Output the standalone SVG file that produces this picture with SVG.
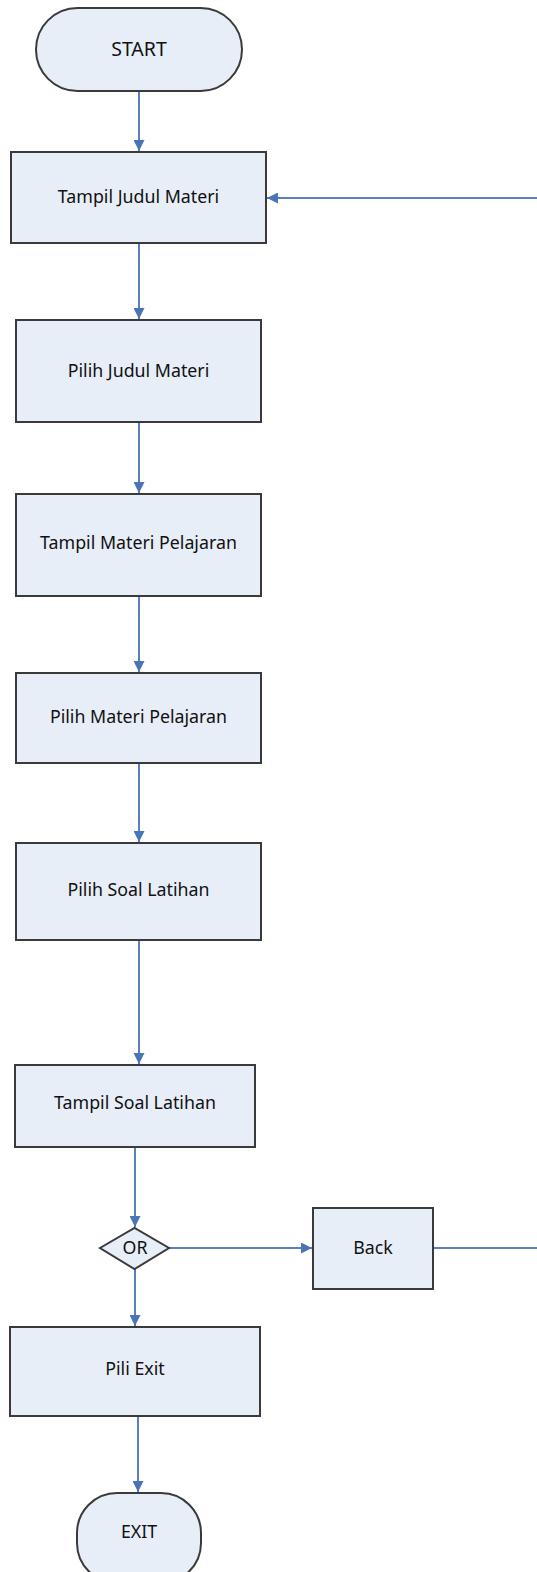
<svg xmlns="http://www.w3.org/2000/svg" width="537" height="1572" viewBox="0 0 537 1572">
<defs>
<style>
.n{fill:#e8eef8;stroke:#3a3a3a;stroke-width:2}
.t{font-family:"Noto Sans","Open Sans",sans-serif;font-size:17.8px;fill:#111;text-anchor:middle}
.tt{font-family:"Noto Sans","Open Sans",sans-serif;font-size:19.5px;fill:#111;text-anchor:middle}
.c{fill:none;stroke:#5b7fbf;stroke-width:2}
</style>
<marker id="ah" viewBox="0 0 10 10" refX="10" refY="5" markerWidth="11" markerHeight="11" markerUnits="userSpaceOnUse" orient="auto">
<path d="M0,0 L10,5 L0,10 Z" fill="#4a74b8"/>
</marker>
</defs>
<rect width="537" height="1572" fill="#fff"/>
<g id="connectors">
<path class="c" d="M139,91 V151" marker-end="url(#ah)"/>
<path class="c" d="M139,243 V319" marker-end="url(#ah)"/>
<path class="c" d="M139,422 V493" marker-end="url(#ah)"/>
<path class="c" d="M139,596 V672" marker-end="url(#ah)"/>
<path class="c" d="M139,763 V842" marker-end="url(#ah)"/>
<path class="c" d="M139,940 V1064" marker-end="url(#ah)"/>
<path class="c" d="M135,1147 V1227" marker-end="url(#ah)"/>
<path class="c" d="M169,1248 H312" marker-end="url(#ah)"/>
<path class="c" d="M135,1269 V1326" marker-end="url(#ah)"/>
<path class="c" d="M138,1416 V1492" marker-end="url(#ah)"/>
<path class="c" d="M433,1248 H540 V198 H267" marker-end="url(#ah)"/>
</g>
<g id="start"><rect class="n" x="36" y="8" width="206" height="83" rx="41.5"/><text class="tt" x="139" y="56">START</text></g>
<g id="tampil-judul"><rect class="n" x="11" y="152" width="255" height="91"/><text class="t" x="138.5" y="203">Tampil Judul Materi</text></g>
<g id="pilih-judul"><rect class="n" x="16" y="320" width="245" height="102"/><text class="t" x="138.5" y="377">Pilih Judul Materi</text></g>
<g id="tampil-materi"><rect class="n" x="16" y="494" width="245" height="102"/><text class="t" x="138.5" y="549">Tampil Materi Pelajaran</text></g>
<g id="pilih-materi"><rect class="n" x="16" y="673" width="245" height="90"/><text class="t" x="138.5" y="723">Pilih Materi Pelajaran</text></g>
<g id="pilih-soal"><rect class="n" x="16" y="843" width="245" height="97"/><text class="t" x="138.5" y="896">Pilih Soal Latihan</text></g>
<g id="tampil-soal"><rect class="n" x="15" y="1065" width="240" height="82"/><text class="t" x="135" y="1109">Tampil Soal Latihan</text></g>
<g id="or"><polygon class="n" points="100,1248 134.5,1228 169,1248 134.5,1269"/><text class="t" x="135" y="1254">OR</text></g>
<g id="back"><rect class="n" x="313" y="1208" width="120" height="81"/><text class="t" x="373" y="1254">Back</text></g>
<g id="pili-exit"><rect class="n" x="10" y="1327" width="250" height="89"/><text class="t" x="135" y="1375">Pili Exit</text></g>
<g id="exit"><rect class="n" x="77" y="1493" width="124" height="90" rx="40"/><text class="t" x="139" y="1538">EXIT</text></g>
</svg>
